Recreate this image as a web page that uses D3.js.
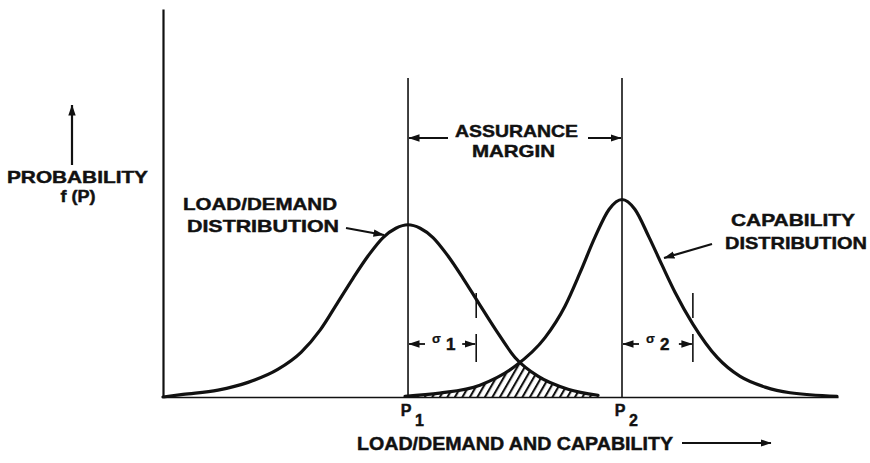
<!DOCTYPE html>
<html>
<head>
<meta charset="utf-8">
<script src="https://cdn.jsdelivr.net/npm/d3@7"></script>
<style>
  body { margin: 0; background: #fff; }
  text { font-family: 'Liberation Sans', Arial, sans-serif; font-weight: bold; fill: #111; stroke: #111; stroke-width: 0.45px; }
</style>
</head>
<body>
<svg id="chart" width="870" height="463"></svg>
<script>
'use strict';

/* ── data (arbitrary 0-100 units) ── */
const loadX = [0, 2.96, 8.15, 12.6, 17.0, 20.45, 23.3, 25.9, 28.15, 30.4, 32.6, 34.5, 36.3, 38.1, 40.0, 42.2, 44.45, 46.7, 49.3, 52.15, 55.6, 60.0, 64.45];
const loadY = [0, 0.67, 1.78, 3.77, 7.1, 11.5, 17.3, 24.4, 30.6, 36.4, 41.1, 43.5, 44.4, 43.5, 41.1, 36.4, 30.6, 24.4, 17.3, 10.2, 5.3, 2.0, 0.44];

const capX = [35.85, 41.0, 46.95, 52.15, 56.6, 59.55, 61.8, 64.0, 66.1, 68.0, 69.9, 72.0, 73.9, 75.85, 78.5, 82.1, 85.5, 89.2, 92.9, 99.85];
const capY = [0.2, 1.0, 3.05, 7.9, 15.3, 23.4, 32.1, 41.2, 48.4, 50.9, 48.4, 41.2, 34.1, 27.0, 18.8, 10.2, 5.3, 2.55, 1.1, 0.2];

const peakX    = [36.3, 68.0];      // P1, P2
const peakSubs = ['1', '2'];
const sigmaTo  = [46.4, 78.5];      // one standard deviation marks

/* ── svg / scales ───────────────────────── */
const svg = d3.select('#chart');
const X = d3.scaleLinear().domain([0, 100]).range([163, 838]);
const Y = d3.scaleLinear().domain([0, 100]).range([397, 9]);
const INK = '#111';

const defs = svg.append('defs');
const arrow = defs.append('marker')
  .attr('id', 'head').attr('viewBox', '0 0 11 8')
  .attr('refX', 10.5).attr('refY', 4)
  .attr('markerWidth', 11).attr('markerHeight', 8)
  .attr('markerUnits', 'userSpaceOnUse').attr('orient', 'auto');
arrow.append('path').attr('d', 'M0,0.3 L11,4 L0,7.7 Z').attr('fill', INK);

const hatch = defs.append('pattern')
  .attr('id', 'hatch').attr('patternUnits', 'userSpaceOnUse')
  .attr('width', 6.5).attr('height', 10)
  .attr('patternTransform', 'rotate(30)');
hatch.append('line').attr('x1', 1).attr('y1', 0).attr('x2', 1).attr('y2', 10)
  .attr('stroke', INK).attr('stroke-width', 2.2);

const loadPts = loadX.map((x, i) => [x, loadY[i]]);
const capPts  = capX.map((x, i) => [x, capY[i]]);

const line = d3.line().x(d => X(d[0])).y(d => Y(d[1])).curve(d3.curveMonotoneX);
const area = d3.area().x(d => X(d[0])).y0(Y(0)).y1(d => Y(d[1])).curve(d3.curveMonotoneX);

defs.append('clipPath').attr('id', 'clipLoad').append('path').attr('d', area(loadPts));
defs.append('clipPath').attr('id', 'clipCap').append('path').attr('d', area(capPts));

/* ── axes ───────────────────────────────── */
svg.append('g').attr('transform', `translate(${X(0)},0)`)
  .call(d3.axisLeft(Y).ticks(0).tickSizeOuter(0))
  .select('.domain').attr('stroke', INK).attr('stroke-width', 2.2);
svg.append('g').attr('transform', `translate(0,${Y(0)})`)
  .call(d3.axisBottom(X).ticks(0).tickSizeOuter(0))
  .select('.domain').attr('stroke', INK).attr('stroke-width', 1.6);

/* ── overlap (hatched) ──────────────────── */
svg.append('g').attr('clip-path', 'url(#clipLoad)')
  .append('g').attr('clip-path', 'url(#clipCap)')
  .append('rect').attr('x', X(0)).attr('y', Y(100)).attr('width', X(100) - X(0)).attr('height', Y(0) - Y(100))
  .attr('fill', 'url(#hatch)');

/* ── peak verticals ─────────────────────── */
svg.selectAll('line.peak').data(peakX).join('line').attr('class', 'peak')
  .attr('x1', d => X(d)).attr('x2', d => X(d))
  .attr('y1', 78).attr('y2', Y(0))
  .attr('stroke', INK).attr('stroke-width', 1.6);

/* ── curves ─────────────────────────────── */
[loadPts, capPts].forEach(pts => {
  svg.append('path').attr('d', line(pts))
    .attr('fill', 'none').attr('stroke', INK).attr('stroke-width', 3.2)
    .attr('stroke-linejoin', 'round').attr('stroke-linecap', 'round');
});

/* ── helpers ────────────────────────────── */
function txt(s, x, y, size, len, anchor) {
  const t = svg.append('text').attr('x', x).attr('y', y).attr('font-size', size)
    .attr('text-anchor', anchor || 'start').text(s);
  if (len) t.attr('textLength', len).attr('lengthAdjust', 'spacingAndGlyphs');
  return t;
}
function arr(x1, y1, x2, y2, w) {
  svg.append('line').attr('x1', x1).attr('y1', y1).attr('x2', x2).attr('y2', y2)
    .attr('stroke', INK).attr('stroke-width', w || 1.8).attr('marker-end', 'url(#head)');
}
function seg(x1, y1, x2, y2) {
  svg.append('line').attr('x1', x1).attr('y1', y1).attr('x2', x2).attr('y2', y2)
    .attr('stroke', INK).attr('stroke-width', 1.6);
}

/* ── P labels ───────────────────────────── */
peakX.forEach((p, i) => {
  txt('P', X(p) - 2, 416, 16, null, 'middle');
  txt(peakSubs[i], X(p) + 7, 426, 16);
});

/* ── sigma dimensions ───────────────────── */
peakX.forEach((p, i) => {
  const a = X(p), b = X(sigmaTo[i]);
  seg(b, 293, b, 318);
  seg(b, 334, b, 362);
  arr(a + 17, 344, a + 1, 344);
  arr(b - 14, 344, b - 1, 344);
  svg.append('text').attr('x', a + 24).attr('y', 343).attr('font-size', 13)
    .attr('font-weight', 'normal').style('stroke-width', '0.2px').text('σ');
  txt(peakSubs[i], a + 38, 350, 17);
});

/* ── assurance margin ───────────────────── */
txt('ASSURANCE', 455, 137, 17, 123);
txt('MARGIN', 472, 157, 17, 83);
arr(448, 138, X(peakX[0]) + 1, 138, 2.2);
arr(588, 138, X(peakX[1]) - 1, 138, 2.2);

/* ── axis labels ────────────────────────── */
txt('PROBABILITY', 7, 183, 17, 141);
txt('f (P)', 78, 202, 16, 35, 'middle');
arr(72, 165, 72, 105, 2.2);

txt('LOAD/DEMAND AND CAPABILITY', 357, 450, 18, 316);
arr(682, 443, 771, 443, 2.2);

/* ── curve labels ───────────────────────── */
txt('LOAD/DEMAND', 183, 210, 17, 154);
txt('DISTRIBUTION', 187, 232, 17, 152);
arr(346, 228, 384, 235, 2.2);

txt('CAPABILITY', 731, 226, 17, 124);
txt('DISTRIBUTION', 725, 249, 17, 142);
arr(712, 244, 664, 258, 2.2);
</script>
</body>
</html>
